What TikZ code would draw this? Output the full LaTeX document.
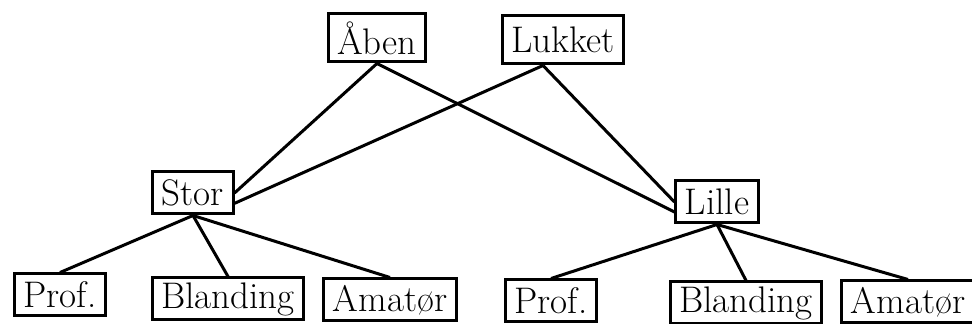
\documentclass[tikz,border=0pt]{standalone}
\usepackage{fontspec}
\begin{document}
\begin{tikzpicture}[x=0.5pt, y=-0.5pt, line width=1.5pt,
    box/.style={draw, inner xsep=4.5pt, inner ysep=0pt, minimum height=21pt,
        font=\fontsize{18.5}{21}\selectfont}]
\useasboundingbox (0,0) rectangle (972,324);

\node[box, minimum height=24pt] (aben) at (377,38) {Åben};
\node[box, minimum height=24pt] (lukket) at (563,40) {Lukket};

\node[box] (stor) at (193,193) {Stor};
\node[box] (lille) at (717,202) {Lille};

\node[box] (prof1) at (60,295) {Prof.};
\node[box] (bland1) at (228,299) {Blanding};
\node[box] (amat1) at (390,300) {Amatør};

\node[box] (prof2) at (551,301) {Prof.};
\node[box] (bland2) at (746,303) {Blanding};
\node[box] (amat2) at (908,302) {Amatør};

\draw (aben.south) -- (stor.east);
\draw (aben.south) -- ([yshift=-5pt]lille.west);
\draw ([xshift=-10pt]lukket.south) -- (stor.-14);
\draw ([xshift=-10pt]lukket.south) -- (lille.west);

\draw (stor.south) -- (prof1.north);
\draw (stor.south) -- (bland1.north);
\draw (stor.south) -- (amat1.north);

\draw (lille.south) -- (prof2.north);
\draw (lille.south) -- (bland2.north);
\draw (lille.south) -- (amat2.north);
\end{tikzpicture}
\end{document}
